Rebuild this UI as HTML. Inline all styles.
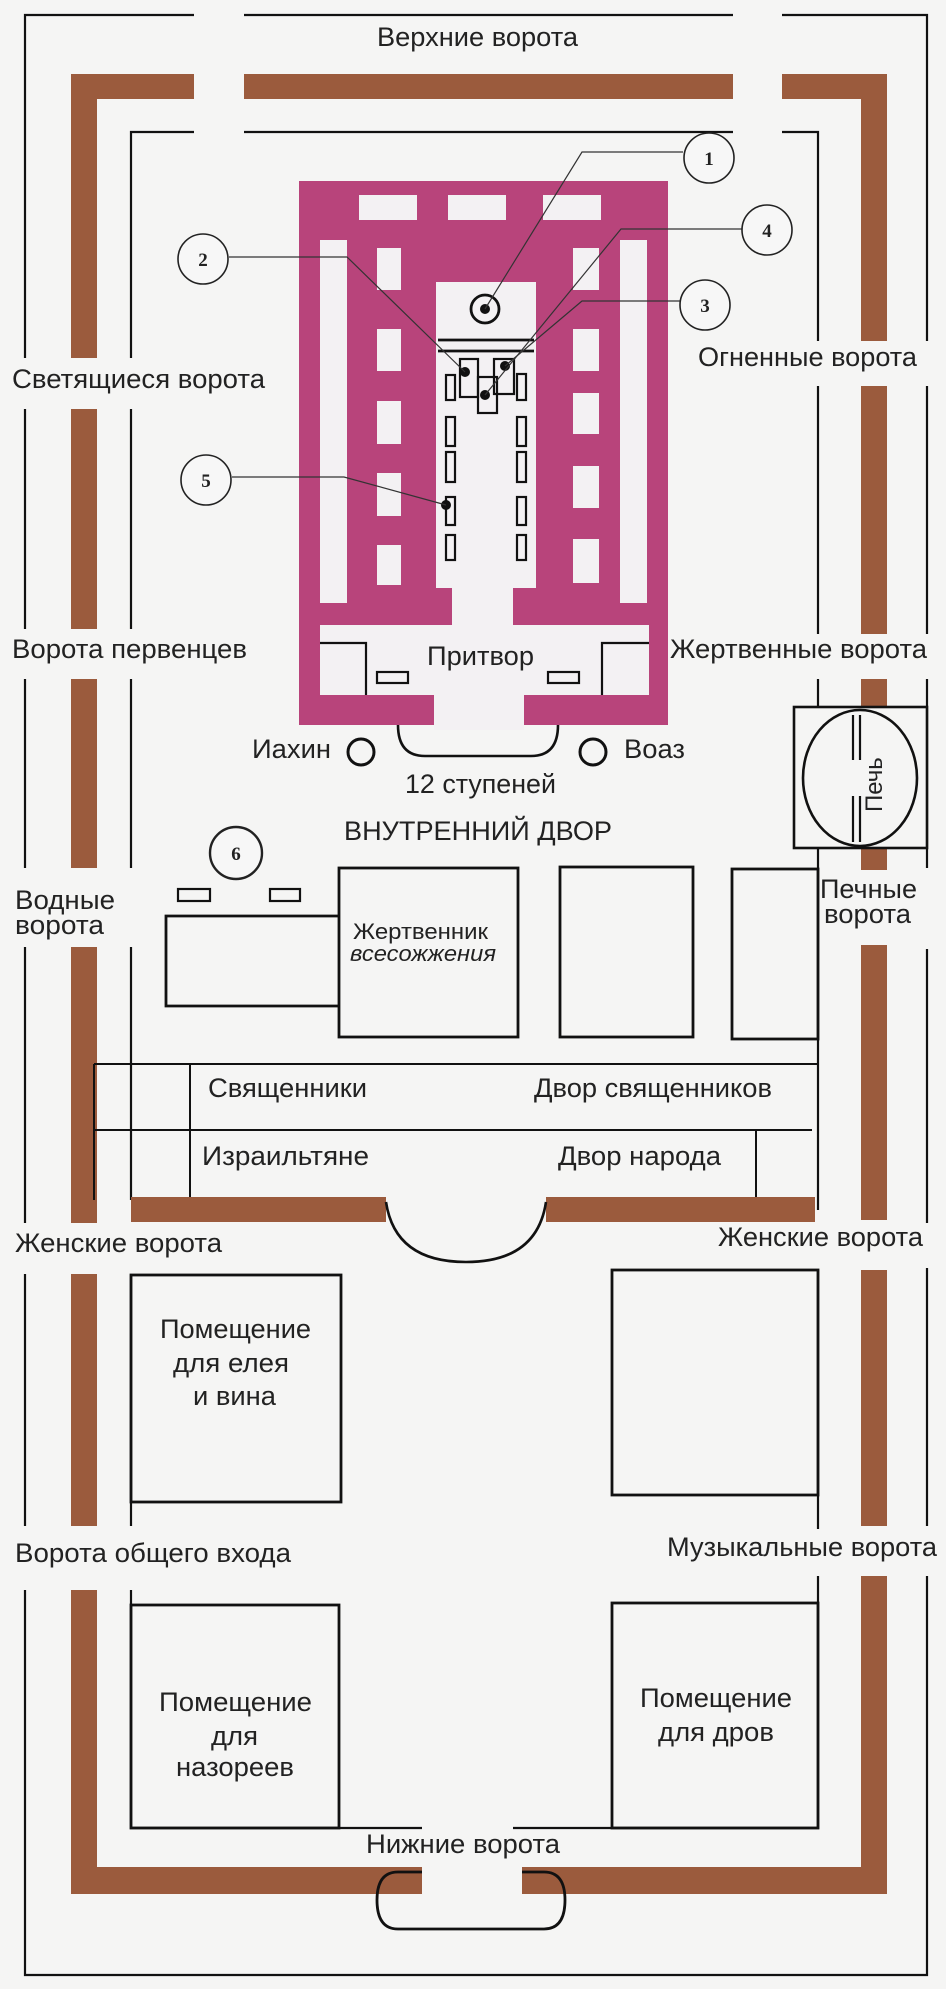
<!DOCTYPE html>
<html><head><meta charset="utf-8"><style>
html,body{margin:0;padding:0;background:#f5f5f4;}
svg{display:block;}
text{font-family:"Liberation Sans",sans-serif;fill:#222;}
.c{font-family:"Liberation Serif",serif;font-weight:bold;font-size:19px;text-anchor:middle;}
</style></head><body>
<svg width="946" height="1989" viewBox="0 0 946 1989" xmlns="http://www.w3.org/2000/svg">
<rect width="946" height="1989" fill="#f5f5f4"/>
<g stroke="#111" stroke-width="2.2" fill="none">
<path d="M25 358V15H194M244 15H733M782 15H927V341"/>
<path d="M25 409V629M25 679V868M25 947V1223M25 1274V1526M25 1590V1975H927V1576"/>
<path d="M927 386V634M927 679V868M927 949V1223M927 1268V1526"/>
<path d="M131 358V132H194M244 132H733M782 132H818V341"/>
<path d="M131 409V629M131 679V868M131 947V1200M131 1275V1526M131 1590V1828H422M513 1828H818V1576"/>
<path d="M818 386V634M818 679V707M818 849V1210M818 1270V1529"/>
</g>
<g fill="#9b5b3d">
<rect x="71" y="74" width="123" height="25"/>
<rect x="244" y="74" width="489" height="25"/>
<rect x="782" y="74" width="105" height="25"/>
<rect x="71" y="74" width="26" height="284"/>
<rect x="71" y="409" width="26" height="220"/>
<rect x="71" y="679" width="26" height="189"/>
<rect x="71" y="947" width="26" height="276"/>
<rect x="71" y="1274" width="26" height="252"/>
<rect x="71" y="1590" width="26" height="304"/>
<rect x="71" y="1867" width="351" height="27"/>
<rect x="522" y="1867" width="365" height="27"/>
<rect x="861" y="74" width="26" height="267"/>
<rect x="861" y="386" width="26" height="248"/>
<rect x="861" y="679" width="26" height="191"/>
<rect x="861" y="945" width="26" height="275"/>
<rect x="861" y="1270" width="26" height="256"/>
<rect x="861" y="1576" width="26" height="318"/>
<rect x="131" y="1197" width="255" height="25"/>
<rect x="546" y="1197" width="269" height="25"/>
</g>
<rect x="299" y="181" width="369" height="544" fill="#b8447b"/>
<g fill="#f3f1f3">
<rect x="359" y="195" width="58" height="25"/>
<rect x="448" y="195" width="58" height="25"/>
<rect x="543" y="195" width="58" height="25"/>
<rect x="320" y="240" width="27" height="363"/>
<rect x="620" y="240" width="27" height="363"/>
<rect x="377" y="248" width="24" height="42"/>
<rect x="377" y="329" width="24" height="42"/>
<rect x="377" y="401" width="24" height="43"/>
<rect x="377" y="473" width="24" height="43"/>
<rect x="377" y="545" width="24" height="40"/>
<rect x="573" y="248" width="26" height="42"/>
<rect x="573" y="329" width="26" height="42"/>
<rect x="573" y="393" width="26" height="41"/>
<rect x="573" y="466" width="26" height="42"/>
<rect x="573" y="539" width="26" height="44"/>
<rect x="436" y="282" width="100" height="306"/>
<rect x="452" y="586" width="61" height="40"/>
<rect x="320" y="625" width="329" height="70"/>
<rect x="434" y="690" width="90" height="40"/>
</g>
<g stroke="#111" stroke-width="2.2" fill="none">
<path d="M320 643H366V695M649 643H602V695"/>
<rect x="377" y="672" width="31" height="11"/>
<rect x="548" y="672" width="31" height="11"/>
<path d="M398 725Q398 756 425 756H531Q558 756 558 725" stroke-width="2.6"/>
<circle cx="485" cy="309" r="14" stroke-width="2.8"/>
<path d="M438 340H534M438 351H534" stroke-width="2.8"/>
<rect x="460" y="359" width="18" height="38"/>
<rect x="494" y="359" width="20" height="35"/>
<rect x="478" y="377" width="19" height="36"/>
<rect x="446" y="375" width="9" height="25"/>
<rect x="517" y="374" width="9" height="26"/>
<rect x="446" y="417" width="9" height="29"/>
<rect x="446" y="452" width="9" height="30"/>
<rect x="446" y="497" width="9" height="28"/>
<rect x="446" y="535" width="9" height="25"/>
<rect x="517" y="417" width="9" height="29"/>
<rect x="517" y="452" width="9" height="30"/>
<rect x="517" y="497" width="9" height="28"/>
<rect x="517" y="535" width="9" height="25"/>
<circle cx="361" cy="752" r="13" stroke-width="3"/>
<circle cx="593" cy="752" r="13" stroke-width="3"/>
</g>
<g fill="#111">
<circle cx="485" cy="309" r="5"/>
<circle cx="465" cy="372" r="5"/>
<circle cx="505" cy="366" r="5"/>
<circle cx="485" cy="395" r="5"/>
<circle cx="446" cy="505" r="5"/>
</g>
<g stroke="#333" stroke-width="1.2" fill="none">
<path d="M683 152H582L485 309"/>
<path d="M742 229H621L485 395"/>
<path d="M680 301H582L505 366"/>
<path d="M229 257H347L465 372"/>
<path d="M232 477H344L446 505"/>
</g>
<g stroke="#222" stroke-width="1.6" fill="#f7f7f7">
<circle cx="709" cy="158" r="25"/>
<circle cx="767" cy="230" r="25"/>
<circle cx="705" cy="305" r="25"/>
<circle cx="203" cy="259" r="25"/>
<circle cx="206" cy="480" r="25"/>
<circle cx="236" cy="853" r="26" stroke-width="2.4"/>
</g>
<text class="c" x="709" y="165">1</text>
<text class="c" x="767" y="237">4</text>
<text class="c" x="705" y="312">3</text>
<text class="c" x="203" y="266">2</text>
<text class="c" x="206" y="487">5</text>
<text class="c" x="236" y="860">6</text>
<rect x="794" y="707" width="133" height="141" fill="#f5f5f4" stroke="#111" stroke-width="2.6"/>
<ellipse cx="860" cy="778" rx="57" ry="68" fill="none" stroke="#111" stroke-width="2.6"/>
<path d="M853 715V760M860 715V760M853 796V842M860 796V842" stroke="#111" stroke-width="2.2"/>
<text x="0" y="0" font-size="24" transform="translate(882,812) rotate(-90)">Печь</text>
<g stroke="#111" stroke-width="2.8" fill="none">
<rect x="339" y="868" width="179" height="169"/>
<rect x="560" y="867" width="133" height="170"/>
<rect x="732" y="869" width="86" height="170"/>
<path d="M339 916H166V1006H339"/>
<rect x="178" y="889" width="32" height="12" stroke-width="2.2"/>
<rect x="270" y="889" width="30" height="12" stroke-width="2.2"/>
</g>
<g stroke="#111" stroke-width="2" fill="none">
<path d="M94 1064H818M94 1130H812M94 1064V1200M190 1064V1197M756 1130V1197"/>
<path d="M386 1202Q395 1262 466 1262Q537 1262 546 1202" stroke-width="2.6"/>
</g>
<g stroke="#111" stroke-width="2.8" fill="none">
<rect x="131" y="1275" width="210" height="227"/>
<rect x="612" y="1270" width="206" height="225"/>
<rect x="131" y="1605" width="208" height="223"/>
<rect x="612" y="1603" width="206" height="225"/>
<path d="M422 1872H398Q377 1872 377 1900Q377 1929 398 1929H544Q565 1929 565 1900Q565 1872 544 1872H522"/>
</g>
<g font-size="27" lengthAdjust="spacingAndGlyphs">
<text x="377" y="46" textLength="201" lengthAdjust="spacingAndGlyphs">Верхние ворота</text>
<text x="698" y="366" textLength="219" lengthAdjust="spacingAndGlyphs">Огненные ворота</text>
<text x="12" y="388" textLength="253" lengthAdjust="spacingAndGlyphs">Светящиеся ворота</text>
<text x="12" y="658" textLength="235" lengthAdjust="spacingAndGlyphs">Ворота первенцев</text>
<text x="670" y="658" textLength="257" lengthAdjust="spacingAndGlyphs">Жертвенные ворота</text>
<text x="427" y="665" textLength="107" lengthAdjust="spacingAndGlyphs">Притвор</text>
<text x="252" y="758" textLength="79" lengthAdjust="spacingAndGlyphs">Иахин</text>
<text x="624" y="758" textLength="61" lengthAdjust="spacingAndGlyphs">Воаз</text>
<text x="405" y="793" textLength="151" lengthAdjust="spacingAndGlyphs">12 ступеней</text>
<text x="344" y="840" textLength="268" lengthAdjust="spacingAndGlyphs">ВНУТРЕННИЙ ДВОР</text>
<text x="15" y="909" textLength="100" lengthAdjust="spacingAndGlyphs">Водные</text>
<text x="15" y="934" textLength="89" lengthAdjust="spacingAndGlyphs">ворота</text>
<text x="820" y="898" textLength="97" lengthAdjust="spacingAndGlyphs">Печные</text>
<text x="824" y="923" textLength="87" lengthAdjust="spacingAndGlyphs">ворота</text>
<text x="208" y="1097" textLength="159" lengthAdjust="spacingAndGlyphs">Священники</text>
<text x="534" y="1097" textLength="238" lengthAdjust="spacingAndGlyphs">Двор священников</text>
<text x="202" y="1165" textLength="167" lengthAdjust="spacingAndGlyphs">Израильтяне</text>
<text x="558" y="1165" textLength="163" lengthAdjust="spacingAndGlyphs">Двор народа</text>
<text x="15" y="1252" textLength="207" lengthAdjust="spacingAndGlyphs">Женские ворота</text>
<text x="718" y="1246" textLength="205" lengthAdjust="spacingAndGlyphs">Женские ворота</text>
<text x="160" y="1338" textLength="151" lengthAdjust="spacingAndGlyphs">Помещение</text>
<text x="173" y="1372" textLength="116" lengthAdjust="spacingAndGlyphs">для елея</text>
<text x="193" y="1405" textLength="83" lengthAdjust="spacingAndGlyphs">и вина</text>
<text x="15" y="1562" textLength="276" lengthAdjust="spacingAndGlyphs">Ворота общего входа</text>
<text x="667" y="1556" textLength="270" lengthAdjust="spacingAndGlyphs">Музыкальные ворота</text>
<text x="159" y="1711" textLength="153" lengthAdjust="spacingAndGlyphs">Помещение</text>
<text x="211" y="1745" textLength="47" lengthAdjust="spacingAndGlyphs">для</text>
<text x="176" y="1776" textLength="118" lengthAdjust="spacingAndGlyphs">назореев</text>
<text x="640" y="1707" textLength="152" lengthAdjust="spacingAndGlyphs">Помещение</text>
<text x="658" y="1741" textLength="116" lengthAdjust="spacingAndGlyphs">для дров</text>
<text x="366" y="1853" textLength="194" lengthAdjust="spacingAndGlyphs">Нижние ворота</text>
</g>
<text x="353" y="939" font-size="22" textLength="135" lengthAdjust="spacingAndGlyphs">Жертвенник</text>
<text x="350" y="961" font-size="22" font-style="italic" textLength="146" lengthAdjust="spacingAndGlyphs">всесожжения</text>
</svg>
</body></html>
